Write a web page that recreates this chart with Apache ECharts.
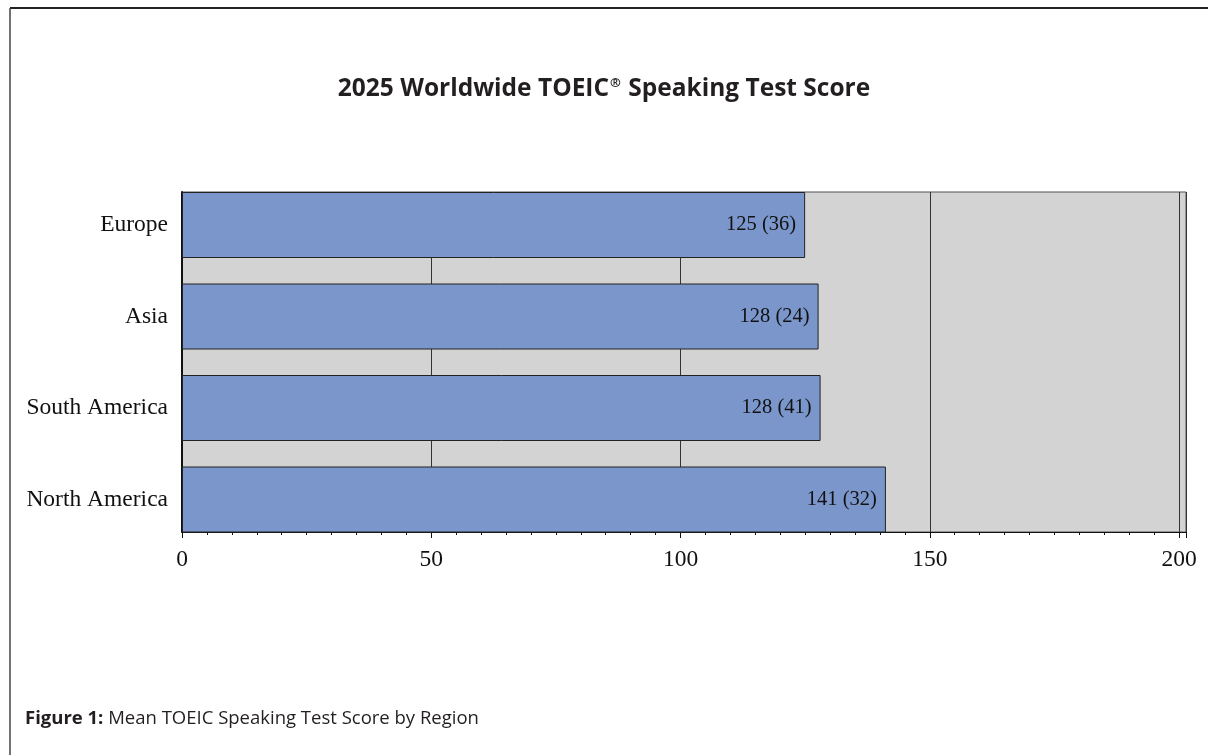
<!doctype html>
<html>
<head>
    <meta charset="utf-8">
    <title>2025 Worldwide TOEIC Speaking Test Score</title>
    <script src="https://cdn.jsdelivr.net/npm/echarts@6/dist/echarts.min.js"></script>
    <style>
        html, body { margin: 0; padding: 0; background: #fff; }
        #main { width: 1208px; height: 755px; }
    </style>
</head>
<body>
    <div id="main"></div>
</body>
<script type="text/javascript">
    // 数据
    var regions = ['Europe', 'Asia', 'South America', 'North America'];
    var meanScores = [125.0, 127.7, 128.1, 141.2];   // 条形长度
    var stdDevs = [36, 24, 41, 32];                  // 括号中的标准差
    var xTicks = [0, 50, 100, 150, 200];

    var serif = '"Liberation Serif", "DejaVu Serif", serif';
    var sans = '"Open Sans", "Noto Sans", sans-serif';

    var myChart = echarts.init(document.getElementById('main'));

    var option = {
        animation: false,
        backgroundColor: '#fff',
        title: [{
            left: 'center',
            top: 72,
            text: '{a|2025 Worldwide TOEIC}{s|®}{a| Speaking Test Score}',
            textStyle: {
                rich: {
                    a: { fontFamily: sans, fontWeight: 'bold', fontSize: 24.5, color: '#231f20' },
                    s: { fontFamily: sans, fontWeight: 'bold', fontSize: 13, color: '#231f20', verticalAlign: 'top', padding: [0, 1, 10, 1] }
                }
            }
        }, {
            left: 25,
            top: 709,
            padding: 0,
            text: '{b|Figure 1:}{r| Mean TOEIC Speaking Test Score by Region}',
            textStyle: {
                rich: {
                    b: { fontFamily: sans, fontWeight: 'bold', fontSize: 18.5, color: '#231f20' },
                    r: { fontFamily: sans, fontWeight: 'normal', fontSize: 18.5, color: '#231f20' }
                }
            }
        }],
        graphic: [
            { type: 'line', shape: { x1: 10, y1: 8, x2: 1208, y2: 8 }, style: { stroke: '#222', lineWidth: 2 } },
            { type: 'line', shape: { x1: 10, y1: 8, x2: 10, y2: 755 }, style: { stroke: '#444', lineWidth: 1.5 } }
        ],
        grid: [
            // 条形所在网格（上下各留半个间隙）
            { left: 182, right: 22, top: 179.25, bottom: 209.75, containLabel: false },
            // 灰色绘图区背景
            { left: 182, right: 22, top: 192, bottom: 223, show: true, backgroundColor: '#d3d3d3', borderColor: '#555', borderWidth: 1, z: -1 }
        ],
        xAxis: [{
            gridIndex: 0,
            type: 'value',
            min: 0,
            max: 201.4,
            interval: 50,
            show: false
        }, {
            gridIndex: 1,
            type: 'value',
            min: 0,
            max: 201.4,
            interval: 50,
            axisLine: { show: true, lineStyle: { color: '#111', width: 1 } },
            axisTick: { show: true, length: 6, lineStyle: { color: '#111' } },
            minorTick: { show: true, splitNumber: 10, length: 3, lineStyle: { color: '#111' } },
            axisLabel: {
                showMaxLabel: false,
                margin: 16,
                fontFamily: serif,
                fontSize: 23.5,
                color: '#111',
                formatter: function (v) { return xTicks.indexOf(v) >= 0 ? String(v) : ''; }
            },
            splitLine: { show: true, lineStyle: { color: '#333', width: 1 } }
        }],
        yAxis: [{
            gridIndex: 0,
            type: 'category',
            inverse: true,
            data: regions,
            axisLine: { show: false },
            axisTick: { show: false },
            axisLabel: { margin: 14, fontFamily: serif, fontSize: 23.5, color: '#111' }
        }, {
            gridIndex: 1,
            type: 'value',
            axisLine: { show: true, lineStyle: { color: '#111', width: 2 } },
            axisTick: { show: false },
            axisLabel: { show: false },
            splitLine: { show: false }
        }],
        series: [{
            type: 'bar',
            xAxisIndex: 0,
            yAxisIndex: 0,
            barWidth: 66,
            data: meanScores,
            itemStyle: { color: '#7b96cb', borderColor: '#222', borderWidth: 1 },
            label: {
                show: true,
                position: 'insideRight',
                distance: 9,
                fontFamily: serif,
                fontSize: 20.5,
                color: '#111',
                formatter: function (p) {
                    return Math.round(p.value) + ' (' + stdDevs[p.dataIndex] + ')';
                }
            }
        }]
    };

    myChart.setOption(option);
</script>
</html>
